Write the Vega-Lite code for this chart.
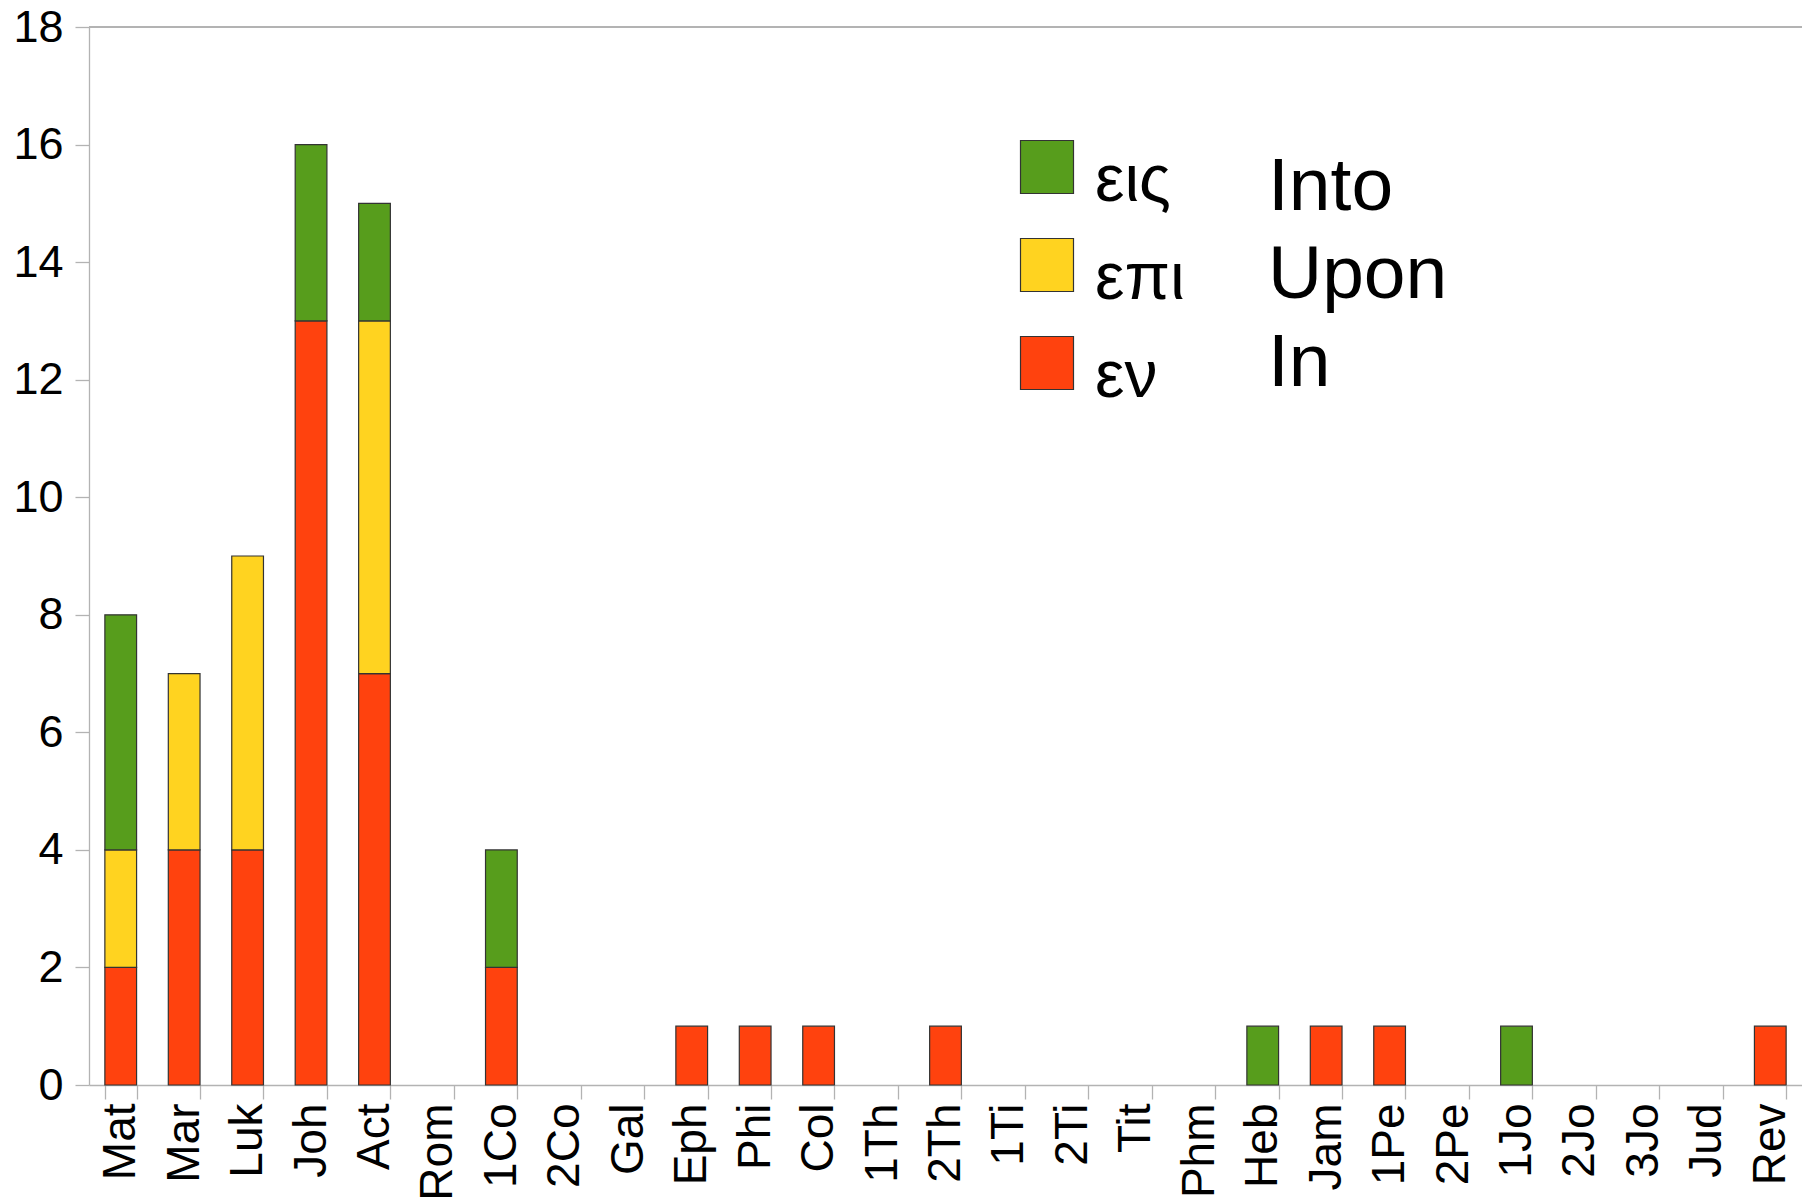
{
  "$schema": "https://vega.github.io/schema/vega-lite/v6.json",
  "width": 1713,
  "height": 1058,
  "autosize": {"type": "none"},
  "padding": {"left": 89, "top": 27, "right": 0, "bottom": 117},
  "background": "white",
  "config": {"view": {"stroke": null}},
  "data": {"values": [
    {"book": "Mat", "prep": "εν", "eng": "In", "rank": 1, "n": 2},
    {"book": "Mat", "prep": "επι", "eng": "Upon", "rank": 2, "n": 2},
    {"book": "Mat", "prep": "εις", "eng": "Into", "rank": 3, "n": 4},
    {"book": "Mar", "prep": "εν", "eng": "In", "rank": 1, "n": 4},
    {"book": "Mar", "prep": "επι", "eng": "Upon", "rank": 2, "n": 3},
    {"book": "Luk", "prep": "εν", "eng": "In", "rank": 1, "n": 4},
    {"book": "Luk", "prep": "επι", "eng": "Upon", "rank": 2, "n": 5},
    {"book": "Joh", "prep": "εν", "eng": "In", "rank": 1, "n": 13},
    {"book": "Joh", "prep": "εις", "eng": "Into", "rank": 3, "n": 3},
    {"book": "Act", "prep": "εν", "eng": "In", "rank": 1, "n": 7},
    {"book": "Act", "prep": "επι", "eng": "Upon", "rank": 2, "n": 6},
    {"book": "Act", "prep": "εις", "eng": "Into", "rank": 3, "n": 2},
    {"book": "1Co", "prep": "εν", "eng": "In", "rank": 1, "n": 2},
    {"book": "1Co", "prep": "εις", "eng": "Into", "rank": 3, "n": 2},
    {"book": "Eph", "prep": "εν", "eng": "In", "rank": 1, "n": 1},
    {"book": "Phi", "prep": "εν", "eng": "In", "rank": 1, "n": 1},
    {"book": "Col", "prep": "εν", "eng": "In", "rank": 1, "n": 1},
    {"book": "2Th", "prep": "εν", "eng": "In", "rank": 1, "n": 1},
    {"book": "Heb", "prep": "εις", "eng": "Into", "rank": 3, "n": 1},
    {"book": "Jam", "prep": "εν", "eng": "In", "rank": 1, "n": 1},
    {"book": "1Pe", "prep": "εν", "eng": "In", "rank": 1, "n": 1},
    {"book": "1Jo", "prep": "εις", "eng": "Into", "rank": 3, "n": 1},
    {"book": "Rev", "prep": "εν", "eng": "In", "rank": 1, "n": 1}
  ]},
  "encoding": {
    "x": {
      "field": "book", "type": "nominal",
      "scale": {
        "domain": ["Mat","Mar","Luk","Joh","Act","Rom","1Co","2Co","Gal","Eph","Phi","Col","1Th","2Th","1Ti","2Ti","Tit","Phm","Heb","Jam","1Pe","2Pe","1Jo","2Jo","3Jo","Jud","Rev"],
        "paddingInner": 0.5, "paddingOuter": 0.25
      },
      "axis": {
        "title": null, "labelAngle": -90, "labelFont": "Liberation Sans", "labelFontSize": 46,
        "labelColor": "black", "labelPadding": 4, "tickBand": "extent", "tickSize": 14,
        "tickColor": "#b3b3b3", "domainColor": "#b3b3b3", "tickWidth": 1.3, "domainWidth": 1.3,
        "grid": false, "labelLimit": 0
      }
    }
  },
  "layer": [
    {
      "mark": {"type": "rule", "color": "#b3b3b3", "strokeWidth": 1.3},
      "encoding": {"y": {"datum": 18, "type": "quantitative"}, "x": null}
    },
    {
      "mark": {"type": "bar", "stroke": "#333333", "strokeWidth": 1.2},
      "encoding": {
        "y": {
          "field": "n", "type": "quantitative", "stack": "zero",
          "scale": {"domain": [0, 18], "nice": false},
          "axis": {
            "title": null, "values": [0,2,4,6,8,10,12,14,16,18], "format": "d", "grid": false,
            "labelFont": "Liberation Sans", "labelFontSize": 45, "labelColor": "black",
            "labelPadding": 12, "tickSize": 14, "tickColor": "#b3b3b3", "domainColor": "#b3b3b3",
            "tickWidth": 1.3, "domainWidth": 1.3
          }
        },
        "order": {"field": "rank", "type": "quantitative", "sort": "ascending"},
        "color": {
          "field": "prep", "type": "nominal",
          "scale": {"domain": ["εις", "επι", "εν"], "range": ["#579d1c", "#ffd320", "#ff420e"]},
          "legend": {
            "title": null, "orient": "none", "legendX": 925, "legendY": 107, "padding": 0,
            "symbolType": "square", "symbolSize": 2809, "symbolStrokeColor": "#333333",
            "symbolStrokeWidth": 1.2, "symbolOpacity": 1,
            "labelFont": "Liberation Sans", "labelFontSize": 66, "labelColor": "black",
            "labelOffset": 15, "rowPadding": 18, "labelLimit": 0,
            "encode": {"labels": {"update": {"dy": {"value": 14}}}}
          }
        }
      }
    },
    {
      "mark": {"type": "point", "opacity": 0},
      "encoding": {
        "y": {"field": "n", "type": "quantitative"},
        "shape": {
          "field": "eng", "type": "nominal",
          "scale": {"domain": ["Into", "Upon", "In"]},
          "legend": {
            "title": null, "orient": "none", "legendX": 1104, "legendY": 122, "padding": 0,
            "symbolSize": 0, "symbolOpacity": 0, "symbolStrokeWidth": 0,
            "labelFont": "Liberation Sans", "labelFontSize": 75, "labelColor": "black",
            "labelOffset": 0, "rowPadding": 12, "labelLimit": 0
          }
        }
      }
    }
  ]
}
